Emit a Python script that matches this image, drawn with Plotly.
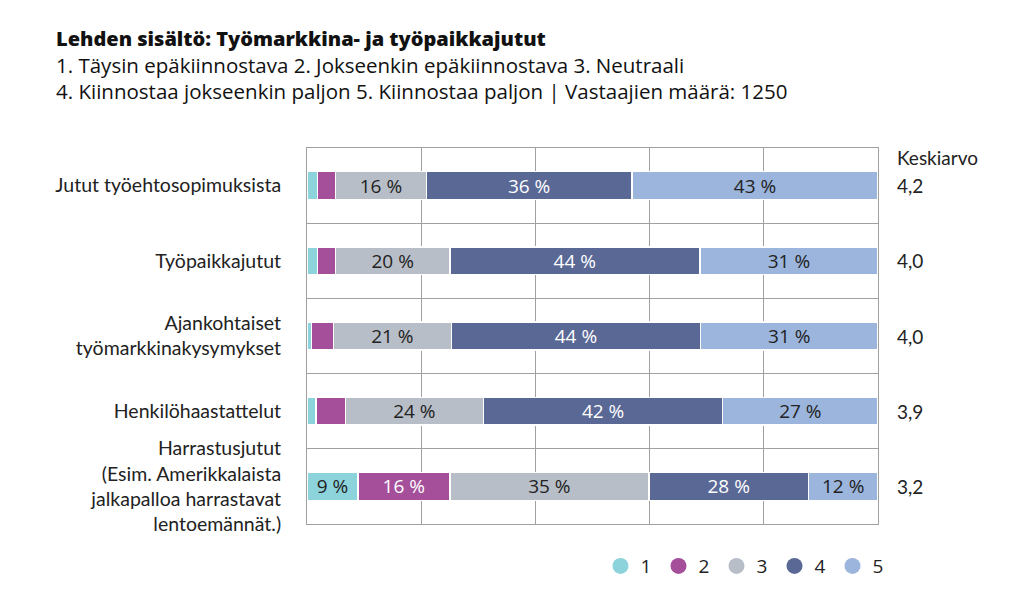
import plotly.graph_objects as go

categories = [
    "Jutut työehtosopimuksista",
    "Työpaikkajutut",
    "Ajankohtaiset<br>työmarkkinakysymykset",
    "Henkilöhaastattelut",
    "Harrastusjutut<br>(Esim. Amerikkalaista<br>jalkapalloa harrastavat<br>lentoemännät.)",
]
v1 = [1.8, 1.8, 0.8, 1.6, 8.9]
v2 = [3.2, 3.2, 3.8, 5.1, 16.1]
v3 = [15.9, 20.0, 20.7, 24.2, 34.9]
v4 = [36.0, 43.8, 43.6, 41.9, 27.9]
v5 = [43.1, 31.2, 31.1, 27.2, 12.2]
means = ["4,2", "4,0", "4,0", "3,9", "3,2"]
series_names = ["1", "2", "3", "4", "5"]

colors = ["#8dd3dc", "#a54f9b", "#b8bec7", "#5a6896", "#9bb5dd"]
text_colors = ["#222222", "#ffffff", "#222222", "#ffffff", "#222222"]
GEO = "Open Sans"
HUM = "Lato"

fig = go.Figure()
ypos = list(range(len(categories)))
for name, vals, col, tcol in zip(series_names, [v1, v2, v3, v4, v5], colors, text_colors):
    txt = [f"{round(v)} %" if v >= 8 else "" for v in vals]
    fig.add_trace(go.Bar(
        x=vals, y=ypos, orientation="h", name=name,
        marker=dict(color=col, line=dict(color="white", width=1.5)),
        text=txt, textposition="inside", insidetextanchor="middle",
        constraintext="none",
        textfont=dict(family=GEO, size=19, color=tcol),
        showlegend=False, hoverinfo="skip",
    ))
    fig.add_trace(go.Scatter(
        x=[None], y=[None], mode="markers", name=name,
        marker=dict(symbol="circle", size=17, color=col),
    ))

for yi, m in zip(ypos, means):
    fig.add_annotation(x=1.03, xref="paper", y=yi, yref="y", text=m,
                       showarrow=False, xanchor="left",
                       font=dict(family=HUM, size=19, color="#222"))
fig.add_annotation(x=1.03, xref="paper", y=0.976, yref="paper", text="Keskiarvo",
                   showarrow=False, xanchor="left", yanchor="middle",
                   font=dict(family=HUM, size=19, color="#222"))

# title lines
fig.add_annotation(x=-0.441, xref="paper", y=1.29, yref="paper",
                   text="Lehden sisältö: Työmarkkina- ja työpaikkajutut",
                   showarrow=False, xanchor="left", yanchor="middle", borderpad=0,
                   font=dict(family=GEO, size=20, color="#111", weight=800))
fig.add_annotation(x=-0.441, xref="paper", y=1.221, yref="paper",
                   text="1. Täysin epäkiinnostava 2. Jokseenkin epäkiinnostava 3. Neutraali",
                   showarrow=False, xanchor="left", yanchor="middle", borderpad=0,
                   font=dict(family=GEO, size=20.5, color="#111"))
fig.add_annotation(x=-0.441, xref="paper", y=1.152, yref="paper",
                   text="4. Kiinnostaa jokseenkin paljon 5. Kiinnostaa paljon | Vastaajien määrä: 1250",
                   showarrow=False, xanchor="left", yanchor="middle", borderpad=0,
                   font=dict(family=GEO, size=20.5, color="#111"))

fig.update_layout(
    width=1024, height=603,
    margin=dict(l=307, r=146, t=148, b=79),
    barmode="stack", bargap=0.63,
    plot_bgcolor="white", paper_bgcolor="white",
    font=dict(family=HUM, size=19, color="#222"),
    legend=dict(orientation="h", x=0.514, xanchor="left", y=-0.112, yanchor="middle",
                traceorder="normal",
                font=dict(family=GEO, size=19, color="#222"), entrywidth=13),
    xaxis=dict(range=[0, 100], showticklabels=False, ticks="",
               tickvals=[20, 40, 60, 80], showgrid=True, gridcolor="#a0a0a0", gridwidth=1,
               showline=True, linecolor="#a0a0a0", mirror=True, zeroline=False),
    yaxis=dict(range=[4.5, -0.5], tickvals=ypos, ticktext=categories,
               showgrid=False, ticks="", ticklabelstandoff=21,
               showline=True, linecolor="#a0a0a0", mirror=True, zeroline=False,
               minor=dict(tickvals=[0.5, 1.5, 2.5, 3.5], showgrid=True,
                          gridcolor="#a0a0a0", gridwidth=1, ticks=""),
               tickfont=dict(family=HUM, size=19.5, color="#222")),
)

fig.write_html("out.html", config={"displayModeBar": False},
               post_script="document.body.style.margin='0';")
